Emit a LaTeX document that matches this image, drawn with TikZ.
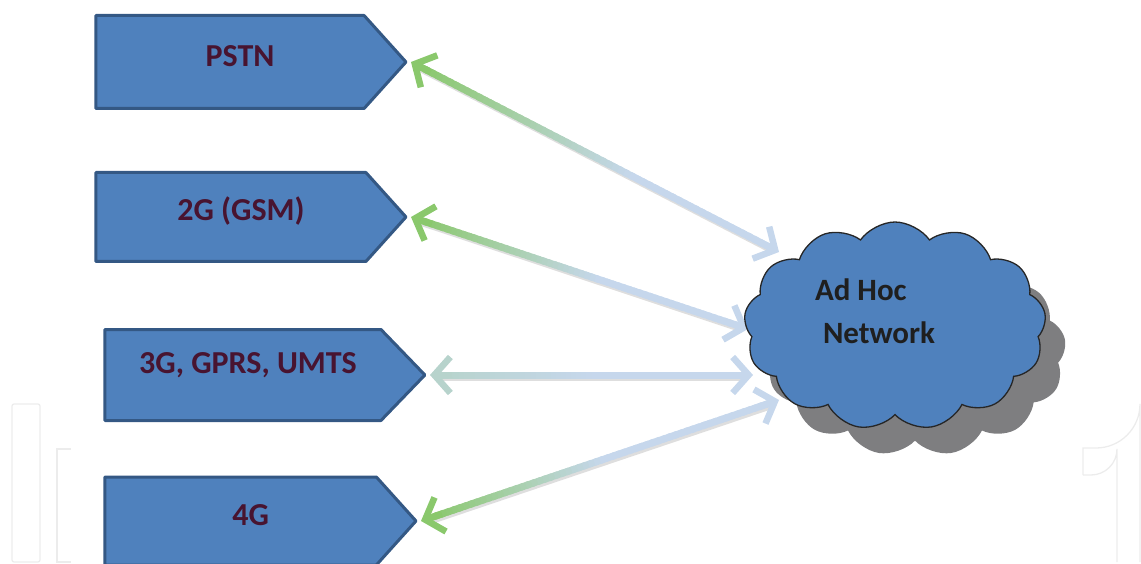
\documentclass[tikz,border=0pt]{standalone}
\usepackage{fontspec}
\setmainfont{Carlito}
\usetikzlibrary{shapes.symbols,shadows,arrows.meta,calc}
\definecolor{boxfill}{RGB}{79,129,189}
\definecolor{boxline}{RGB}{52,88,132}
\definecolor{boxtext}{RGB}{72,20,48}
\definecolor{agreen}{RGB}{138,200,108}
\definecolor{ablue}{RGB}{198,215,236}
\definecolor{cloudshadow}{RGB}{126,126,128}
\definecolor{wm}{RGB}{236,236,236}
\tikzset{
  netbox/.style={signal, signal to=east, signal pointer angle=96, fill=boxfill,
    draw=boxline, line width=3pt, line join=round, inner sep=0pt,
    minimum width=310pt, minimum height=92pt, anchor=east,
    font=\bfseries\fontsize{32}{32}\selectfont, text=boxtext},
  netcloud/.style={cloud, cloud puffs=13, cloud puff arc=110, aspect=1.45,
    minimum width=302pt, minimum height=208pt, fill=boxfill, draw=black!85,
    line width=1.3pt, inner sep=0pt,
    drop shadow={shadow xshift=20pt, shadow yshift=-26pt, fill=cloudshadow, opacity=1}},
  cloudtext/.style={font=\bfseries\fontsize{31}{43}\selectfont, text=black!88, align=left},
  shaft/.style={line width=7pt, line cap=butt},
  arrshadow/.style={line width=7pt, draw=black!13},
  headtip/.style={line width=6.5pt, -{Straight Barb[length=16pt,width=36pt]}},
  wmark/.style={draw=wm, line width=1.3pt}
}
\newcommand\uptext[2]{\raisebox{#1}[\height][\depth]{#2}}
% #1 start, #2 end, #3 fraction where start colour is gone, #4 start colour, #5 end colour
\newcommand\linkarrow[5]{%
  \coordinate (la) at ($(#1)!9pt!(#2)$);
  \coordinate (lb) at ($(#2)!9pt!(#1)$);
  \draw[arrshadow] ($(la)+(1.5,2.5)$) -- ($(lb)+(1.5,2.5)$);
  \foreach \k in {0,...,59}{%
    \pgfmathsetmacro\ta{\k/60}%
    \pgfmathsetmacro\tb{min(1,(\k+1.6)/60)}%
    \pgfmathtruncatemacro\mx{max(0,min(100,100*(1-\ta/#3)))}%
    \draw[shaft, draw=#4!\mx!#5] ($(la)!\ta!(lb)$) -- ($(la)!\tb!(lb)$);
  }
  \draw[headtip, draw=#4] ($(#1)!22pt!(#2)$) -- (#1);
  \draw[headtip, draw=#5] ($(#2)!22pt!(#1)$) -- (#2);
}
\begin{document}
\begin{tikzpicture}[x=1pt,y=-1pt]
\useasboundingbox (0,0) rectangle (1141,564);
% faint watermark
\draw[wmark, rounded corners=2pt] (12,404) rectangle (40,562);
\draw[wmark] (71,449) -- (57,449) -- (57,562) -- (71,562);
\draw[wmark] (1083,475) -- (1083,448) -- (1096,448) arc[start angle=90, end angle=0, radius=44] -- (1140,562);
\draw[wmark] (1083,475) -- (1091,475) arc[start angle=90, end angle=0, radius=26] -- (1117,562);

% connector end points on the cloud
\coordinate (c1) at (779,252);
\coordinate (c2) at (748,329);
\coordinate (c3) at (753,375);
\coordinate (c4) at (779,400);

% boxes
\node[netbox, minimum height=93pt] (pstn) at (408,62) {\hspace*{20pt}\uptext{6pt}{PSTN}};
\node[netbox, minimum height=89pt] (gsm) at (408,217) {\hspace*{20pt}\uptext{6pt}{2G (GSM)}};
\node[netbox, minimum width=320pt, minimum height=91pt, signal pointer angle=92] (umts) at (427,375) {\hspace*{10pt}\uptext{10pt}{3G, GPRS, UMTS}};
\node[netbox, minimum width=311pt, minimum height=88pt] (fourg) at (418,521) {\hspace*{20pt}\uptext{6pt}{4G}};

% arrows
\linkarrow{$(pstn.east)+(3,0)$}{c1}{0.6}{agreen}{ablue}
\linkarrow{$(gsm.east)+(3,0)$}{c2}{0.55}{agreen}{ablue}
\linkarrow{$(umts.east)+(3,0)$}{c3}{0.5}{ablue!75!agreen}{ablue}
\linkarrow{$(fourg.east)+(3,0)$}{c4}{0.5}{agreen}{ablue}

% cloud
\node[netcloud] (cloud) at (895,326) {};
\node[cloudtext] (adhoc) at (875,311) {Ad Hoc\\\hspace*{8pt}Network};
\end{tikzpicture}
\end{document}
